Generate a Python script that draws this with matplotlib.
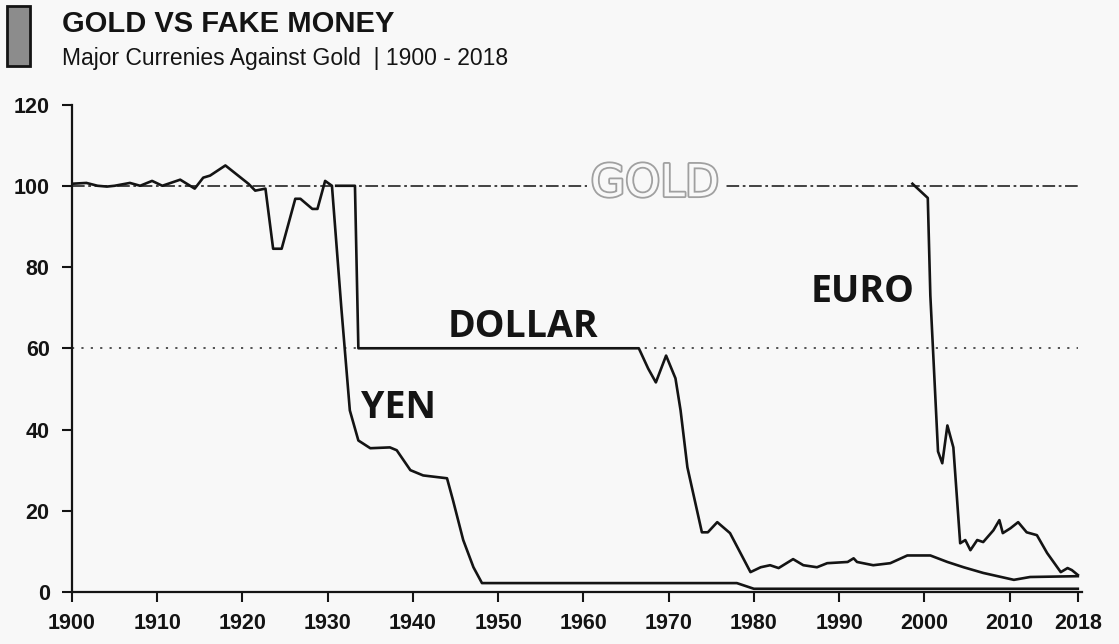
import matplotlib
matplotlib.use("Agg")
import matplotlib.pyplot as plt
import matplotlib.patheffects as pe
from matplotlib.patches import Rectangle

# ==============================
# DATA
# ==============================
gold_years = [1900, 2018]
gold_vals = [100, 100]

dollar_ref_years = [1900, 2018]
dollar_ref_vals = [60, 60]

yen_years = [1900, 1901.7, 1903, 1904.1, 1905, 1906.8, 1908, 1909.4, 1910.6,
             1912.7, 1914.4, 1915.4, 1916.2, 1918, 1920.7, 1921.5, 1922.7,
             1923.6, 1924.6, 1926.2, 1926.8, 1928.2, 1928.8, 1929.7, 1930.5,
             1931.6, 1932.6, 1933.6, 1935, 1937.3, 1938.1, 1939.7, 1941.2,
             1944, 1944.7, 1945.9, 1947.1, 1948.1, 1960, 1978, 1980, 2000, 2018]
yen_vals = [100.5, 100.7, 100, 99.8, 100, 100.7, 100, 101.2, 100,
            101.5, 99.3, 102, 102.5, 105, 100.5, 98.8, 99.3,
            84.5, 84.5, 96.8, 96.8, 94.3, 94.3, 101.2, 100,
            70, 44.7, 37.3, 35.4, 35.6, 34.9, 30, 28.7,
            28, 22.6, 12.8, 6.1, 2.2, 2.2, 2.2, 0.8, 0.8, 0.8]

dollar_years = [1931.0, 1933.2, 1933.6, 1966.5, 1967.6, 1968.5, 1969.7, 1970.8,
                1971.4, 1972.2, 1973.9, 1974.6, 1975.7, 1977.2, 1979.6, 1980.8,
                1981.9, 1982.9, 1984.6, 1985.8, 1987.4, 1988.6, 1991, 1991.7,
                1992.1, 1994, 1996, 1998, 2000.7, 2002.7, 2004.6, 2006.9,
                2010.5, 2012.4, 2018]
dollar_vals = [100, 100, 60, 60, 55, 51.6, 58.2, 52.6,
               44.7, 30.7, 14.7, 14.7, 17.2, 14.5, 4.9, 6.1,
               6.6, 5.9, 8.1, 6.6, 6.1, 7.1, 7.4, 8.3,
               7.4, 6.6, 7.1, 9, 9, 7.4, 6.1, 4.7,
               3, 3.7, 3.9]

euro_years = [1998.6, 2000.4, 2000.7, 2001.6, 2002.1, 2002.7, 2003.4, 2004.2,
              2004.8, 2005.4, 2006.2, 2006.9, 2008.1, 2008.8, 2009.2, 2010.1,
              2011.0, 2012.0, 2013.2, 2014.4, 2016, 2016.8, 2017.3, 2018]
euro_vals = [100.5, 97, 73, 34.6, 31.7, 41, 35.6, 12,
             12.8, 10.3, 12.8, 12.3, 15.2, 17.7, 14.5, 15.7,
             17.2, 14.7, 14, 9.6, 4.9, 5.9, 5.4, 4.2]

x_ticks = [1900, 1910, 1920, 1930, 1940, 1950, 1960, 1970, 1980, 1990, 2000, 2010, 2018]
y_ticks = [0, 20, 40, 60, 80, 100, 120]

BG = "#f8f8f8"
INK = "#141414"


def main():
    fig = plt.figure(figsize=(11.19, 6.44), dpi=100, facecolor=BG)
    ax = fig.add_axes([0.0643, 0.0807, 0.9027, 0.757])
    ax.set_facecolor(BG)

    # reference lines
    ax.plot(gold_years, gold_vals, color="#333333", lw=1.3,
            linestyle=(0, (7, 2, 1.5, 2)), zorder=1)
    ax.plot(dollar_ref_years, dollar_ref_vals, color="#444444", lw=1.3,
            linestyle=(0, (1.2, 4)), zorder=1)

    # currencies
    for xs, ys in [(yen_years, yen_vals), (dollar_years, dollar_vals),
                   (euro_years, euro_vals)]:
        ax.plot(xs, ys, color=INK, lw=1.9, solid_joinstyle="round", zorder=3)

    # labels on the lines
    ax.text(1968.4, 100.5, "GOLD", fontsize=32, family="DejaVu Sans",
            color=BG, ha="center", va="center", zorder=2,
            path_effects=[pe.withStroke(linewidth=2.6, foreground="#a0a0a0")],
            bbox=dict(facecolor=BG, edgecolor="none", pad=3))
    lab = dict(fontsize=27, family="Open Sans", fontweight="bold",
               color=INK, ha="center", va="center", zorder=4)
    ax.text(1952.9, 65.3, "DOLLAR", **lab)
    ax.text(1938.3, 45.3, "YEN", **lab)
    ax.text(1992.8, 73.8, "EURO", **lab)

    ax.set_xlim(1900, 2018.5)
    ax.set_ylim(0, 120)
    ax.set_xticks(x_ticks)
    ax.set_yticks(y_ticks)

    for s in ["top", "right"]:
        ax.spines[s].set_visible(False)
    for s in ["left", "bottom"]:
        ax.spines[s].set_linewidth(1.6)
        ax.spines[s].set_color(INK)

    ax.tick_params(axis="both", direction="out", length=7, width=1.5,
                   color=INK, labelcolor=INK)
    ax.tick_params(axis="x", pad=8)
    ax.tick_params(axis="y", pad=9)
    for t in ax.get_xticklabels() + ax.get_yticklabels():
        t.set_family("Liberation Sans")
        t.set_fontweight("bold")
        t.set_fontsize(15.5)

    # header
    fig.patches.append(Rectangle((7 / 1119, 1 - 66 / 644), 23 / 1119, 60 / 644,
                                 transform=fig.transFigure, facecolor="#8c8c8c",
                                 edgecolor=INK, lw=2))
    fig.text(62 / 1119, 1 - 32 / 644, "GOLD VS FAKE MONEY", fontsize=21,
             family="Liberation Sans", fontweight="bold", color=INK,
             ha="left", va="baseline")
    fig.text(62 / 1119, 1 - 65 / 644, "Major Currenies Against Gold  | 1900 - 2018",
             fontsize=16.5, family="Liberation Sans", color=INK,
             ha="left", va="baseline")

    fig.savefig("out.png", dpi=100, facecolor=BG)
    plt.close(fig)


if __name__ == "__main__":
    main()
